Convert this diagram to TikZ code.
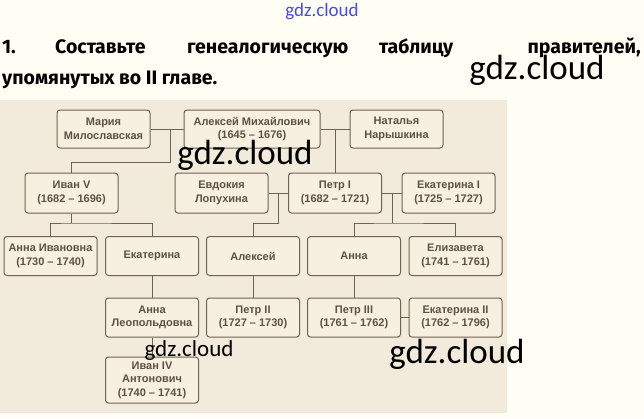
\documentclass[tikz,border=0pt]{standalone}
\usepackage{fontspec}
\setmainfont{Liberation Sans}
\newfontfamily\titlefont{Fira Sans Bold}
\newfontfamily\wmfont{Carlito}
\definecolor{pagebg}{HTML}{FEFEF4}
\definecolor{panelbg}{HTML}{F2EADB}
\definecolor{boxfill}{HTML}{F7F0E1}
\definecolor{boxline}{HTML}{6F6252}
\definecolor{boxtext}{HTML}{5E5044}
\definecolor{wmblue}{HTML}{4B4BD8}
\begin{document}
\begin{tikzpicture}[x=1pt,y=-1pt,
  person/.style={draw=boxline,line width=1pt,fill=boxfill,rounded corners=3pt,
    minimum width=93pt,minimum height=39pt,inner sep=1pt,align=center,
    text=boxtext,font=\fontsize{11}{13.5}\selectfont\bfseries},
  link/.style={draw=boxline,line width=1pt},
  title/.style={font=\titlefont\fontsize{19.5}{22}\selectfont,inner sep=0pt,text=black},
  wm/.style={font=\wmfont\fontsize{35}{40}\selectfont,text=black,inner sep=0pt}]
\useasboundingbox (0,0) rectangle (644,418);
\fill[pagebg] (0,0) rectangle (644,418);
\fill[panelbg] (0,100) rectangle (507,413);
% title
\node[title,anchor=base west] (t1) at (2,53) {1.};
\node[title,anchor=base west] (t2) at (55,53) {Составьте};
\node[title,anchor=base west] (t3) at (187,53) {генеалогическую};
\node[title,anchor=base west] (t4) at (379,53) {таблицу};
\node[title,anchor=base east] (t5) at (641,53) {правителей,};
\node[title,anchor=base west] (t6) at (2,84) {упомянутых во II главе.};
% boxes
\node[person,minimum height=38pt] (maria) at (103.5,129) {Мария\\Милославская};
\node[person,minimum height=38pt,minimum width=136pt] (aleksey) at (252,129) {Алексей Михайлович\\(1645 – 1676)};
\node[person,minimum height=38pt] (natalya) at (396.5,129) {Наталья\\Нарышкина};
\node[person,minimum height=40pt] (ivan5) at (71.5,193) {Иван V\\(1682 – 1696)};
\node[person,minimum height=40pt] (evdokia) at (221.5,193) {Евдокия\\Лопухина};
\node[person,minimum height=40pt] (petr1) at (335,193) {Петр I\\(1682 – 1721)};
\node[person,minimum height=40pt] (ekat1) at (448.5,193) {Екатерина I\\(1725 – 1727)};
\node[person] (annai) at (50.5,256) {Анна Ивановна\\(1730 – 1740)};
\node[person] (ekaterina) at (152,256) {Екатерина};
\node[person] (alexeyson) at (253,256) {Алексей};
\node[person] (anna) at (354,256) {Анна};
\node[person] (eliz) at (455.5,256) {Елизавета\\(1741 – 1761)};
\node[person] (annal) at (152,317.5) {Анна\\Леопольдовна};
\node[person] (petr2) at (253,317.5) {Петр II\\(1727 – 1730)};
\node[person] (petr3) at (354,317.5) {Петр III\\(1761 – 1762)};
\node[person] (ekat2) at (455.5,317.5) {Екатерина II\\(1762 – 1796)};
\node[person,minimum height=46pt] (ivan4) at (152,380) {Иван IV\\Антонович\\(1740 – 1741)};
% connectors
\draw[link] (maria.east) -- (aleksey.west);
\coordinate (m1) at (170,129);
\coordinate (j0) at (170,162);
\draw[link] (m1) -- (j0) -| (ivan5.north);
\draw[link] (aleksey.east) -- (natalya.west);
\coordinate (m2) at (335,129);
\draw[link] (m2) -- (petr1.north);
\draw[link] (evdokia.east) -- (petr1.west);
\coordinate (m3) at (278.5,193);
\coordinate (j3) at (278.5,223);
\draw[link] (m3) -- (j3) -| (alexeyson.north);
\draw[link] (petr1.east) -- (ekat1.west);
\coordinate (m4) at (392.5,193);
\coordinate (j4) at (392.5,223);
\draw[link] (m4) -- (j4);
\draw[link] (anna.north) |- (j4) -| (eliz.north);
\coordinate (j1) at (71.5,223);
\draw[link] (ivan5.south) -- (j1);
\draw[link] (annai.north) |- (j1) -| (ekaterina.north);
\draw[link] (ekaterina.south) -- (annal.north);
\draw[link] (annal.south) -- (ivan4.north);
\draw[link] (alexeyson.south) -- (petr2.north);
\draw[link] (anna.south) -- (petr3.north);
\draw[link] (petr3.east) -- (ekat2.west);
% watermarks
\node[font=\wmfont\fontsize{19}{22}\selectfont,text=wmblue,inner sep=0pt] (w0) at (322,12) {gdz.cloud};
\node[wm] (w1) at (537,70) {gdz.cloud};
\node[wm] (w2) at (245,155) {gdz.cloud};
\node[wm,font=\wmfont\fontsize{23}{26}\selectfont] (w3) at (189,350) {gdz.cloud};
\node[wm] (w4) at (457,354) {gdz.cloud};
\end{tikzpicture}
\end{document}
